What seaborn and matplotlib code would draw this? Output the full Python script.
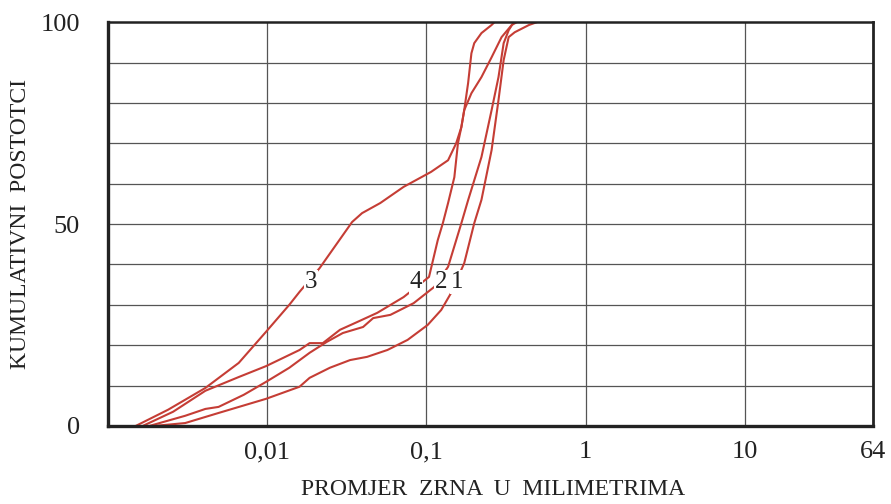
import numpy as np, pandas as pd
import matplotlib; matplotlib.use("Agg"); import matplotlib.pyplot as plt
import seaborn as sns
from matplotlib.ticker import FixedLocator, NullLocator

# grain size (mm) vs cumulative percent
c1_x = [0.00197, 0.00306, 0.00496, 0.00985, 0.0160, 0.0185, 0.0248, 0.0332, 0.0425,
        0.0570, 0.0763, 0.102, 0.124, 0.143, 0.173, 0.200, 0.222, 0.257, 0.284,
        0.306, 0.329, 0.359, 0.441, 0.495]
c1_y = [0, 0.7, 3.2, 6.7, 9.7, 11.9, 14.4, 16.3, 17.1, 18.8, 21.3, 25.0, 28.7, 32.9,
        40.3, 50.2, 56.0, 68.3, 80.7, 90.6, 96.3, 97.5, 99.3, 100]
c2_x = [0.00183, 0.00306, 0.00410, 0.00496, 0.00714, 0.00985, 0.0138, 0.0185, 0.0237,
        0.0299, 0.0401, 0.0464, 0.0595, 0.0833, 0.112, 0.137, 0.166, 0.183, 0.222,
        0.257, 0.284, 0.306, 0.329, 0.354]
c2_y = [0, 2.5, 4.2, 4.7, 7.7, 10.9, 14.4, 18.1, 20.8, 23.0, 24.5, 26.7, 27.5, 30.4,
        34.4, 39.4, 50.2, 55.9, 66.6, 78.2, 86.4, 94.8, 98.0, 100]
c3_x = [0.00150, 0.00239, 0.00410, 0.00664, 0.00985, 0.0138, 0.0160, 0.0214, 0.0342,
        0.0395, 0.0514, 0.0720, 0.107, 0.137, 0.154, 0.166, 0.173, 0.192, 0.222,
        0.257, 0.297, 0.344, 0.370]
c3_y = [0, 4.0, 9.4, 15.6, 23.3, 30.0, 33.2, 39.1, 50.5, 52.7, 55.2, 59.2, 62.9, 65.8,
        70.0, 74.0, 78.2, 82.4, 86.4, 91.3, 96.3, 99.3, 100]
c4_x = [0.00166, 0.00257, 0.00410, 0.00664, 0.00985, 0.0160, 0.0185, 0.0224, 0.0287,
        0.0367, 0.0492, 0.0720, 0.104, 0.118, 0.127, 0.137, 0.150, 0.158, 0.166,
        0.173, 0.183, 0.192, 0.200, 0.222, 0.257, 0.268]
c4_y = [0, 3.5, 8.7, 12.1, 14.8, 18.8, 20.5, 20.5, 23.8, 25.7, 28.0, 31.9, 36.9, 46.0,
        50.2, 55.2, 61.6, 70.0, 74.0, 78.2, 84.9, 92.3, 94.8, 97.3, 99.3, 100]

curve_names = ["1", "2", "3", "4"]
label_x = [0.156, 0.124, 0.0190, 0.0858]
label_y = [35.6, 35.6, 35.6, 35.6]

x_ticks = [0.01, 0.1, 1, 10, 64]
x_ticklabels = ["0,01", "0,1", "1", "10", "64"]
y_ticks = [0, 50, 100]

sns.set_theme(style="white")
plt.rcParams["font.family"] = ["Liberation Serif", "DejaVu Serif"]

fig = plt.figure(figsize=(8.91, 5.04), dpi=100)
ax = fig.add_axes([0.121, 0.155, 0.859, 0.801])

red = "#c53d35"
for xs, ys in [(c1_x, c1_y), (c2_x, c2_y), (c3_x, c3_y), (c4_x, c4_y)]:
    sns.lineplot(x=xs, y=ys, sort=False, estimator=None, color=red, lw=1.5, ax=ax)

ax.set_xscale("log")
ax.set_xlim(0.001, 64)
ax.set_ylim(0, 100)

# grid: vertical at decades, horizontal every 10 %
for xv in [0.01, 0.1, 1, 10]:
    ax.axvline(xv, color="#555555", lw=0.9, zorder=0)
for yv in range(10, 100, 10):
    ax.axhline(yv, color="#555555", lw=0.9, zorder=0)

ax.xaxis.set_major_locator(FixedLocator(x_ticks))
ax.xaxis.set_minor_locator(NullLocator())
ax.set_xticklabels(x_ticklabels)
ax.set_yticks(y_ticks)
ax.tick_params(axis="x", length=0, pad=11, labelsize=19, colors="#222222")
ax.tick_params(axis="y", length=0, pad=20, labelsize=19, colors="#222222")

for side, w in [("left", 2.4), ("bottom", 2.4), ("top", 1.8), ("right", 2.0)]:
    ax.spines[side].set_visible(True)
    ax.spines[side].set_color("#222222")
    ax.spines[side].set_linewidth(w)

for name, lx, ly in zip(curve_names, label_x, label_y):
    ax.text(lx, ly, name, fontsize=18, ha="center", va="center", color="#222222",
            bbox=dict(facecolor="white", edgecolor="none", pad=0.5), zorder=5)

fig.text(0.023, 0.555, "KUMULATIVNI  POSTOTCI", fontsize=17, color="#222222",
         rotation=90, ha="center", va="center")
fig.text(0.553, 0.008, "PROMJER  ZRNA  U  MILIMETRIMA", fontsize=17, color="#222222",
         ha="center", va="bottom")

fig.savefig("out.png", dpi=100)
